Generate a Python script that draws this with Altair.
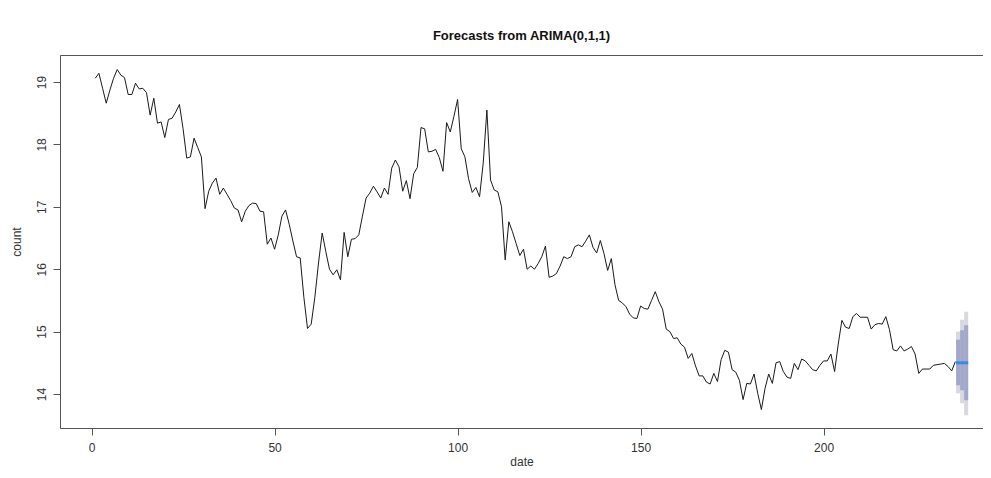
import altair as alt
import pandas as pd

# ---- data ----
obs_count = [
    19.06, 19.14, 18.90, 18.66, 18.87, 19.06, 19.20, 19.11, 19.07, 18.80,
    18.80, 18.98, 18.89, 18.90, 18.83, 18.47, 18.74, 18.34, 18.36, 18.11,
    18.40, 18.42, 18.52, 18.64, 18.25, 17.78, 17.80, 18.10, 17.95, 17.80,
    16.97, 17.25, 17.38, 17.46, 17.20, 17.30, 17.20, 17.10, 16.98, 16.95,
    16.76, 16.93, 17.02, 17.06, 17.05, 16.93, 16.92, 16.40, 16.50, 16.32,
    16.55, 16.85, 16.95, 16.72, 16.45, 16.20, 16.18, 15.55, 15.05, 15.12,
    15.55, 16.10, 16.58, 16.28, 16.00, 15.91, 15.99, 15.83, 16.59, 16.20,
    16.48, 16.49, 16.55, 16.85, 17.14, 17.22, 17.33, 17.24, 17.14, 17.30,
    17.20, 17.62, 17.75, 17.64, 17.25, 17.42, 17.13, 17.53, 17.63, 18.27,
    18.25, 17.88, 17.89, 17.92, 17.79, 17.57, 18.35, 18.20, 18.45, 18.72,
    17.93, 17.80, 17.45, 17.23, 17.31, 17.16, 17.70, 18.55, 17.43, 17.27,
    17.24, 17.00, 16.15, 16.76, 16.60, 16.41, 16.22, 16.32, 16.00, 16.05,
    16.00, 16.09, 16.20, 16.37, 15.87, 15.89, 15.93, 16.05, 16.20, 16.17,
    16.20, 16.36, 16.39, 16.36, 16.45, 16.55, 16.35, 16.26, 16.46, 16.25,
    15.98, 16.17, 15.75, 15.50, 15.46, 15.40, 15.28, 15.22, 15.21, 15.41,
    15.37, 15.36, 15.50, 15.64, 15.48, 15.36, 15.04, 15.00, 14.89, 14.90,
    14.80, 14.75, 14.57, 14.65, 14.45, 14.29, 14.29, 14.19, 14.16, 14.33,
    14.20, 14.55, 14.70, 14.67, 14.39, 14.35, 14.22, 13.91, 14.17, 14.16,
    14.32, 14.01, 13.75, 14.09, 14.32, 14.17, 14.50, 14.52, 14.36, 14.27,
    14.25, 14.49, 14.39, 14.56, 14.53, 14.46, 14.39, 14.37, 14.46, 14.53,
    14.53, 14.64, 14.36, 14.80, 15.18, 15.07, 15.05, 15.24, 15.29, 15.23,
    15.23, 15.23, 15.04, 15.11, 15.13, 15.12, 15.24, 15.03, 14.71, 14.69,
    14.77, 14.69, 14.72, 14.76, 14.64, 14.33, 14.40, 14.40, 14.40, 14.46,
    14.47, 14.48, 14.49, 14.44, 14.37, 14.52,
]
obs_time = list(range(1, len(obs_count) + 1))

fc_start = [236.2, 237.3, 238.4]
fc_end = [237.3, 238.4, 239.5]
fc_mean = [14.50, 14.50, 14.50]
lo80 = [14.14, 14.06, 13.90]
hi80 = [14.87, 15.02, 15.10]
lo95 = [14.01, 13.85, 13.66]
hi95 = [15.00, 15.19, 15.32]

x_ticks = [0, 50, 100, 150, 200]
y_ticks = [14, 15, 16, 17, 18, 19]

obs = pd.DataFrame({"date": obs_time, "count": obs_count})
fc = pd.DataFrame({
    "t0": fc_start, "t1": fc_end, "mean": fc_mean,
    "lo80": lo80, "hi80": hi80, "lo95": lo95, "hi95": hi95,
})

FONT = "Liberation Sans"
AX = "#555555"
TXT = "#333333"
xscale = alt.Scale(domain=[-8.63, 243.55], nice=False, zero=False)
yscale = alt.Scale(domain=[13.455, 19.433], nice=False, zero=False)

x_axis = alt.Axis(
    values=x_ticks, title="date", orient="bottom", grid=False,
    tickSize=7, labelPadding=7, titlePadding=3,
    domainColor=AX, tickColor=AX, labelColor=TXT, titleColor=TXT,
    labelFont=FONT, titleFont=FONT, labelFontSize=12, titleFontSize=12,
    titleFontWeight="normal", labelFlush=False, labelOverlap=False,
)
y_axis = alt.Axis(
    values=y_ticks, title="count", orient="left", grid=False,
    tickSize=7, labelPadding=5, titlePadding=12,
    labelAngle=270, labelAlign="center", labelBaseline="bottom",
    domainColor=AX, tickColor=AX, labelColor=TXT, titleColor=TXT,
    labelFont=FONT, titleFont=FONT, labelFontSize=12, titleFontSize=12,
    titleFontWeight="normal", labelFlush=False, labelOverlap=False,
)
top_axis = alt.Axis(
    orient="top", labels=False, ticks=False, title=None, grid=False,
    domainColor=AX,
)

base_fc = alt.Chart(fc)

band95 = base_fc.mark_rect(color="#D7D8E0").encode(
    x=alt.X("t0:Q", scale=xscale, axis=None),
    x2="t1:Q",
    y=alt.Y("lo95:Q", scale=yscale, axis=None),
    y2="hi95:Q",
)
band80 = base_fc.mark_rect(color="#A3A7CA").encode(
    x=alt.X("t0:Q", scale=xscale, axis=None),
    x2="t1:Q",
    y=alt.Y("lo80:Q", scale=yscale, axis=None),
    y2="hi80:Q",
)
fc_line = base_fc.mark_rule(color="#2E8BE6", strokeWidth=3).encode(
    x=alt.X("t0:Q", scale=xscale, axis=top_axis),
    x2="t1:Q",
    y=alt.Y("mean:Q", scale=yscale, axis=None),
)
line = alt.Chart(obs).mark_line(color="#1a1a1a", strokeWidth=1).encode(
    x=alt.X("date:Q", scale=xscale, axis=x_axis),
    y=alt.Y("count:Q", scale=yscale, axis=y_axis),
)

chart = (
    alt.layer(line, band95, band80, fc_line)
    .resolve_axis(x="independent", y="independent")
    .properties(
        width=923,
        height=373,
        autosize=alt.AutoSizeParams(type="none"),
        padding={"left": 52, "top": 47, "right": 0, "bottom": 42},
        title=alt.TitleParams(
            "Forecasts from ARIMA(0,1,1)", font=FONT, fontSize=13,
            fontWeight="bold", color="#111111", anchor="middle", dx=0,
            offset=12,
        ),
        background="white",
    )
    .configure_view(stroke=None)
)

chart.save("out.html", embed_options={"renderer": "svg", "actions": False})
